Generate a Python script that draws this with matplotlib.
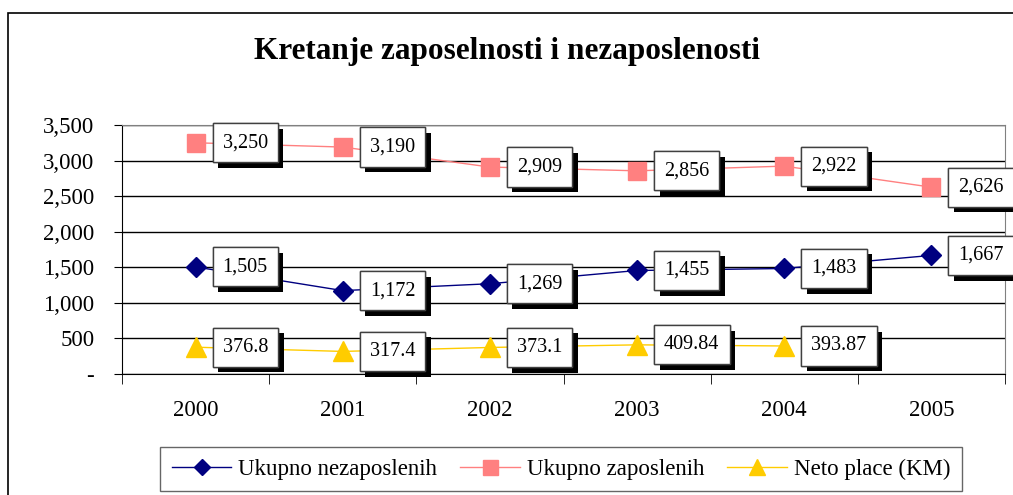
import matplotlib.pyplot as plt
import matplotlib.patheffects as pe
from matplotlib.patches import Rectangle

years = ['2000', '2001', '2002', '2003', '2004', '2005']
nezaposleni = [1505, 1172, 1269, 1455, 1483, 1667]
zaposleni = [3250, 3190, 2909, 2856, 2922, 2626]
neto_place = [376.8, 317.4, 373.1, 409.84, 393.87]

plt.rcParams['font.family'] = 'Liberation Serif'

fig = plt.figure(figsize=(10.13, 4.95), dpi=100)
ax = fig.add_axes([122 / 1013, 1 - 374 / 495, 883 / 1013, 249 / 495])

# outer frame of the chart, cut off at the right and bottom like the original
fig.patches.append(Rectangle((8 / 1013, -0.2), 1.2, 1 - 13 / 495 + 0.2,
                             transform=fig.transFigure, fill=False,
                             edgecolor='black', linewidth=1.2))

x = list(range(len(years)))

ax.plot(x, nezaposleni, color='#000080', linewidth=1, marker='D', markersize=10,
        label='Ukupno nezaposlenih', zorder=3)
ax.plot(x, zaposleni, color='#FF8080', linewidth=1, marker='s', markersize=13.5,
        label='Ukupno zaposlenih', zorder=3)
ax.plot(x[:len(neto_place)], neto_place, color='#FFCC00', linewidth=1, marker='^',
        markersize=15, label='Neto place (KM)', zorder=3)


def label(xs, ys, fmt):
    for xi, yi in zip(xs, ys):
        t = ax.annotate(fmt(yi), (xi, yi), xytext=(27, 0), textcoords='offset pixels',
                        ha='left', va='center', fontsize=14.5, zorder=5,
                        bbox=dict(boxstyle='square,pad=0.5', fc='white', ec='#404040', lw=1))
        t.get_bbox_patch().set_path_effects([
            pe.withSimplePatchShadow(offset=(4, -4), shadow_rgbFace='black', alpha=1),
            pe.Normal()])


label(x, nezaposleni, lambda v: f'{v:,}')
label(x, zaposleni, lambda v: f'{v:,}')
label(x[:len(neto_place)], neto_place, lambda v: f'{v:g}')

ax.set_xlim(-0.5, 5.5)
ax.set_ylim(0, 3500)
ax.set_yticks(range(0, 3501, 500))
ax.set_yticklabels(['-'] + [f'{v:,}' for v in range(500, 3501, 500)])
ax.set_xticks(x)
ax.set_xticklabels(years)
ax.set_xticks([i - 0.5 for i in range(7)], minor=True)
ax.tick_params(axis='x', which='major', length=0, pad=19, labelsize=16.5)
ax.tick_params(axis='x', which='minor', length=7, direction='out', color='black')
ax.tick_params(axis='y', length=6, direction='out', labelsize=16.5, pad=14)
ax.yaxis.grid(True, color='black', linewidth=1)
ax.set_axisbelow(True)

for s in ['top', 'right']:
    ax.spines[s].set_color('#808080')
ax.spines['left'].set_color('black')
ax.spines['bottom'].set_color('black')

fig.text(0.5, 1 - 52 / 495, 'Kretanje zaposelnosti i nezaposlenosti',
         ha='center', va='center', fontsize=22.5, fontweight='bold')

leg = fig.legend(loc='center', bbox_to_anchor=(561 / 1013, 1 - 469 / 495), ncol=3,
                 fontsize=16.5, frameon=True, fancybox=False, edgecolor='#404040',
                 handlelength=2.6, handletextpad=0.3, columnspacing=1.0,
                 borderpad=0.5, markerscale=0.8)
leg.get_frame().set_linewidth(1)

fig.savefig('out.png', dpi=100)
